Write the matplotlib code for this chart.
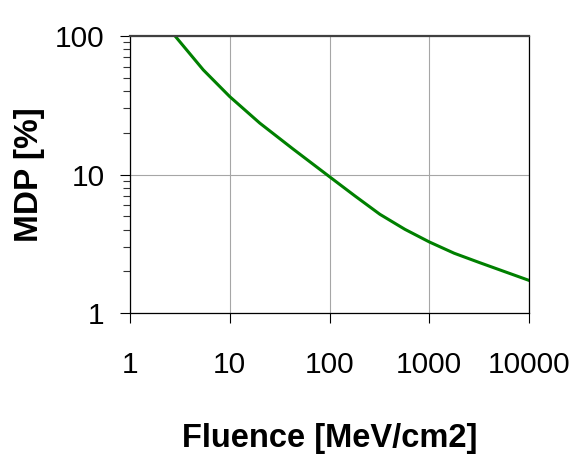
import matplotlib
matplotlib.use("Agg")
import matplotlib.pyplot as plt
from matplotlib.ticker import LogLocator, FixedLocator, NullFormatter

# values
fluence = [2.83, 5.43, 10, 20, 43, 100, 180, 320, 570, 1000, 1780, 3200, 5690, 10000]
mdp = [100, 56.9, 36.5, 23.5, 15.3, 9.64, 7.0, 5.16, 4.02, 3.26, 2.70, 2.31, 1.99, 1.72]

x_ticks = [1, 10, 100, 1000, 10000]
x_labels = ["1", "10", "100", "1000", "10000"]
y_ticks = [1, 10, 100]
y_labels = ["1", "10", "100"]

plt.rcParams['font.family'] = ['Liberation Sans', 'DejaVu Sans']

fig = plt.figure(figsize=(5.74, 4.55), dpi=100)
ax = fig.add_axes([130 / 574, 142 / 455, 399 / 574, 277 / 455])

ax.plot(fluence, mdp, color="#008000", linewidth=2.2)

ax.set_xscale("log")
ax.set_yscale("log")
ax.set_xlim(1, 10000)
ax.set_ylim(1, 100)

ax.xaxis.set_major_locator(FixedLocator(x_ticks))
ax.set_xticklabels(x_labels)
ax.yaxis.set_major_locator(FixedLocator(y_ticks))
ax.set_yticklabels(y_labels)
ax.xaxis.set_minor_locator(LogLocator(base=10, subs=range(2, 10)))
ax.yaxis.set_minor_locator(LogLocator(base=10, subs=range(2, 10)))
ax.xaxis.set_minor_formatter(NullFormatter())
ax.yaxis.set_minor_formatter(NullFormatter())

ax.tick_params(which="major", direction="out", length=7.2, width=0.8,
               labelsize=21.5, color="black")
ax.tick_params(which="minor", direction="out", length=5, width=0.8, color="#333333")
ax.tick_params(axis="x", which="major", pad=20)
ax.tick_params(axis="y", which="major", pad=11)

ax.grid(True, which="major", color="#a6a6a6", linewidth=0.8)
ax.set_axisbelow(True)

for side in ["left", "bottom", "right"]:
    ax.spines[side].set_color("black")
    ax.spines[side].set_linewidth(0.9)
ax.spines["top"].set_color("#404040")
ax.spines["top"].set_linewidth(1.6)

ax.set_xlabel("Fluence [MeV/cm2]", fontsize=23.5, fontweight="bold", labelpad=32)
ax.set_ylabel("MDP [%]", fontsize=24, fontweight="bold", labelpad=7)

fig.savefig("out.png", dpi=100)
